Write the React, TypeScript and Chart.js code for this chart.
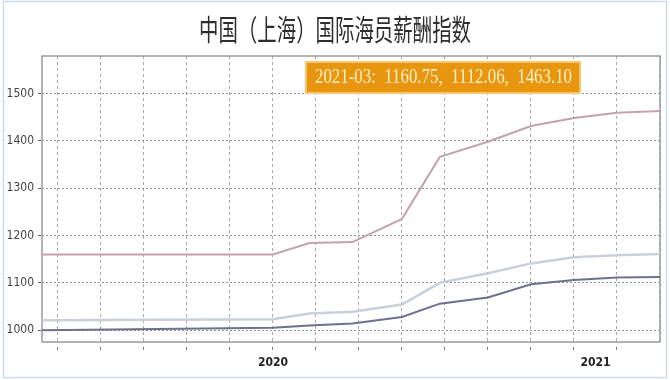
import React, { useEffect, useRef } from 'react';
import { Chart, registerables } from 'chart.js';

Chart.register(...registerables);

const chartTitle = '中国（上海）国际海员薪酬指数';
const latestPeriod = '2021-03';

// positions of the observations along the time axis (grid-interval units)
const periodPos = [-0.37, 5, 5.85, 6.85, 8, 8.88, 10, 11, 12, 13, 14];
// three index series
const seriesLight = [1021, 1023, 1035, 1039, 1054, 1100, 1120, 1141, 1154, 1158, 1160.75];
const seriesDark = [1000, 1005, 1010, 1014, 1028, 1056, 1069, 1097, 1106, 1111, 1112.06];
const seriesMauve = [1160, 1160, 1184, 1186, 1235, 1366, 1398, 1431, 1448, 1459, 1463.1];

const seriesNames = ['指数一', '指数二', '指数三'];

const yTicks = [1000, 1100, 1200, 1300, 1400, 1500];
const yMin = 975;
const yMax = 1579;

const xMin = -0.37;
const xMax = 14;
const xGridSteps = [0, 1, 2, 3, 4, 5, 6, 7, 8, 9, 10, 11, 12, 13, 14];
const yearLabels = ['2020', '2021'];
const yearLabelPos = [5, 12.5];

function fontExists(name: string): boolean {
  const c = document.createElement('canvas').getContext('2d');
  if (!c) return false;
  const test = '0123456789 mmmwwwlliiABC';
  c.font = '20px monospace';
  const a = c.measureText(test).width;
  c.font = `20px "${name}", monospace`;
  const b = c.measureText(test).width;
  c.font = '20px serif';
  const a2 = c.measureText(test).width;
  c.font = `20px "${name}", serif`;
  const b2 = c.measureText(test).width;
  return a !== b || a2 !== b2;
}

function pickTickFont(): { family: string; size: number } {
  if (fontExists('Liberation Sans Narrow')) return { family: '"Liberation Sans Narrow"', size: 13 };
  if (fontExists('DejaVu Sans Condensed')) return { family: '"DejaVu Sans Condensed"', size: 11 };
  return { family: '"Liberation Serif", serif', size: 12 };
}

function drawCondensed(
  ctx: CanvasRenderingContext2D,
  text: string,
  cx: number,
  cy: number,
  font: string,
  color: string,
  targetWidth: number
) {
  ctx.save();
  ctx.font = font;
  const w = ctx.measureText(text).width;
  const sx = targetWidth / w;
  ctx.translate(cx, cy);
  ctx.scale(sx, 1);
  ctx.textAlign = 'center';
  ctx.textBaseline = 'middle';
  ctx.fillStyle = color;
  ctx.fillText(text, 0, 0);
  ctx.restore();
}

const decorPlugin = {
  id: 'decor',
  beforeDraw(chart: any) {
    const ctx: CanvasRenderingContext2D = chart.ctx;
    ctx.save();
    ctx.fillStyle = '#ffffff';
    ctx.fillRect(0, 0, chart.width, chart.height);
    ctx.strokeStyle = '#c9dcec';
    ctx.lineWidth = 1.5;
    ctx.strokeRect(3.5, 1.5, chart.width - 7, chart.height - 4);
    ctx.restore();
  },
  beforeDatasetsDraw(chart: any) {
    const ctx: CanvasRenderingContext2D = chart.ctx;
    const a = chart.chartArea;
    ctx.save();
    ctx.strokeStyle = '#9a9a9a';
    ctx.lineWidth = 1.5;
    ctx.strokeRect(a.left, a.top, a.right - a.left, a.bottom - a.top);
    ctx.restore();
  },
  afterDraw(chart: any) {
    const ctx: CanvasRenderingContext2D = chart.ctx;
    // title
    drawCondensed(ctx, chartTitle, 335, 30, '29px "Noto Sans CJK SC"', '#2e2e2e', 272);
    // latest-value box
    const n = seriesLight.length - 1;
    const text = `${latestPeriod}:  ${seriesLight[n].toFixed(2)},  ${seriesDark[n].toFixed(2)},  ${seriesMauve[n].toFixed(2)}`;
    ctx.save();
    ctx.fillStyle = '#f6c76f';
    ctx.fillRect(305, 61, 276, 33);
    ctx.fillStyle = '#e8950f';
    ctx.fillRect(307, 63, 272, 29);
    ctx.restore();
    drawCondensed(ctx, text, 443.5, 78, '20px "Liberation Serif"', '#fff2c6', 257);
  },
};

export default function App() {
  const ref = useRef<HTMLCanvasElement | null>(null);

  useEffect(() => {
    if (!ref.current) return;
    const tf = pickTickFont();
    const mk = (vals: number[]) => vals.map((v, i) => ({ x: periodPos[i], y: v }));
    const xTickValues = Array.from(new Set([...xGridSteps, ...yearLabelPos])).sort((p, q) => p - q);

    const chart = new Chart(ref.current, {
      type: 'line',
      data: {
        datasets: [
          {
            label: seriesNames[0],
            data: mk(seriesLight),
            borderColor: '#c9d1d6',
            borderWidth: 2.5,
            pointRadius: 0,
            tension: 0,
            fill: false,
          },
          {
            label: seriesNames[1],
            data: mk(seriesDark),
            borderColor: '#6c7190',
            borderWidth: 2,
            pointRadius: 0,
            tension: 0,
            fill: false,
          },
          {
            label: seriesNames[2],
            data: mk(seriesMauve),
            borderColor: '#c2a3ab',
            borderWidth: 2,
            pointRadius: 0,
            tension: 0,
            fill: false,
          },
        ],
      },
      options: {
        responsive: false,
        animation: false,
        events: [],
        layout: { padding: { top: 56, right: 10, left: 0, bottom: 0 } },
        plugins: {
          legend: { display: false },
          tooltip: { enabled: false },
          title: { display: false },
        },
        scales: {
          x: {
            type: 'linear',
            min: xMin,
            max: xMax,
            afterBuildTicks: (s: any) => {
              s.ticks = xTickValues.map((v) => ({ value: v }));
            },
            afterFit: (s: any) => {
              s.height = 38;
            },
            ticks: {
              autoSkip: false,
              maxRotation: 0,
              padding: 6,
              color: '#222222',
              font: { family: tf.family, size: tf.size + 1, weight: 'bold' },
              callback: (v: any) => {
                const idx = yearLabelPos.indexOf(Number(v));
                return idx >= 0 ? yearLabels[idx] : '';
              },
            },
            grid: {
              color: (c: any) =>
                c.tick && xGridSteps.includes(c.tick.value) ? '#a8a8a8' : 'rgba(0,0,0,0)',
              tickColor: (c: any) =>
                c.tick && xGridSteps.includes(c.tick.value) && c.tick.value !== xMax ? '#777777' : 'rgba(0,0,0,0)',
              tickLength: 8,
              tickBorderDash: [0, 5, 3, 20],
              lineWidth: 1,
            },
            border: { display: false, dash: [3, 3] },
          },
          y: {
            min: yMin,
            max: yMax,
            afterBuildTicks: (s: any) => {
              s.ticks = yTicks.map((v) => ({ value: v }));
            },
            afterFit: (s: any) => {
              s.width = 42;
            },
            ticks: {
              padding: 2,
              color: '#444444',
              font: { family: tf.family, size: tf.size + 1 },
              callback: (v: any) => String(v),
            },
            grid: {
              color: '#8f8f8f',
              tickColor: '#666666',
              tickLength: 6,
              tickBorderDash: [0, 2, 3, 20],
              lineWidth: 1,
            },
            border: { display: false, dash: [2, 2] },
          },
        },
      },
      plugins: [decorPlugin],
    } as any);

    return () => chart.destroy();
  }, []);

  return (
    <div style={{ position: 'absolute', left: 0, top: 0, width: 670, height: 380 }}>
      <canvas ref={ref} width={670} height={380} style={{ display: 'block', width: 670, height: 380 }} />
    </div>
  );
}
